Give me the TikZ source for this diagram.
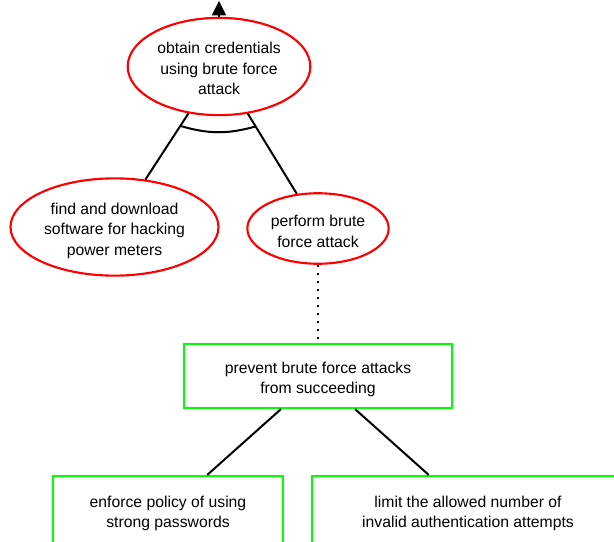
\documentclass[tikz,border=0pt]{standalone}
\usepackage{fontspec}
\setmainfont{Liberation Sans}
\usetikzlibrary{shapes.geometric,arrows.meta,calc}
\newcommand{\nodelines}[2][16pt]{\begin{tabular}{@{}c@{}}\rule{0pt}{#1}#2\end{tabular}}
\begin{document}
\begin{tikzpicture}[x=0.75pt,y=-0.75pt,
	attack/.style={ellipse,draw=red,line width=1.6pt,inner sep=0pt,font=\fontsize{11.8}{15.3}\selectfont},
	defence/.style={rectangle,draw=green,line width=1.6pt,inner sep=0pt,font=\fontsize{11.8}{15.3}\selectfont},
	link/.style={black,line width=1.5pt}]
	\clip (0,0) rectangle (614,542);
	%támadási fa
	\node [attack,minimum width=137pt,minimum height=68pt] (goal) at (219,66.5) {\nodelines[16.4pt]{obtain credentials\\using brute force\\attack}};
	\node [attack,minimum width=156pt,minimum height=70pt] (findsw) at (114.5,227) {\nodelines[16.4pt]{find and download\\software for hacking\\power meters}};
	\node [attack,minimum width=106pt,minimum height=49pt] (brute) at (318,228.5) {\nodelines[17.5pt]{perform brute\\force attack}};
	\coordinate (up) at ($(goal.north)+(0,-16)$);
	\draw [link,-{Triangle[width=10.5pt,length=11pt]}] (goal.north) -- (up);
	\draw [link] (goal) -- (findsw);
	\draw [link] (goal) -- (brute);
	\draw [link] ($(goal)!0.37!(findsw)$) to[bend right=16] ($(goal)!0.37!(brute)$);
	
	%védekezés
	\node [defence,minimum width=201pt,minimum height=48pt] (prevent) at (318,376) {\nodelines{prevent brute force attacks\\from succeeding}};
	\node [defence,minimum width=173pt,minimum height=51pt] (policy) at (168,510) {\nodelines[15.4pt]{enforce policy of using\\strong passwords}};
	\node [defence,minimum width=234pt,minimum height=51pt] (limit) at (468,510) {\nodelines[15.4pt]{limit the allowed number of\\invalid authentication attempts}};
	\draw [link,dash pattern=on 1.5pt off 4.5pt] (brute) -- (prevent);
	\draw [link] (prevent) -- (policy);
	\draw [link] (prevent) -- (limit);
\end{tikzpicture}
\end{document}
